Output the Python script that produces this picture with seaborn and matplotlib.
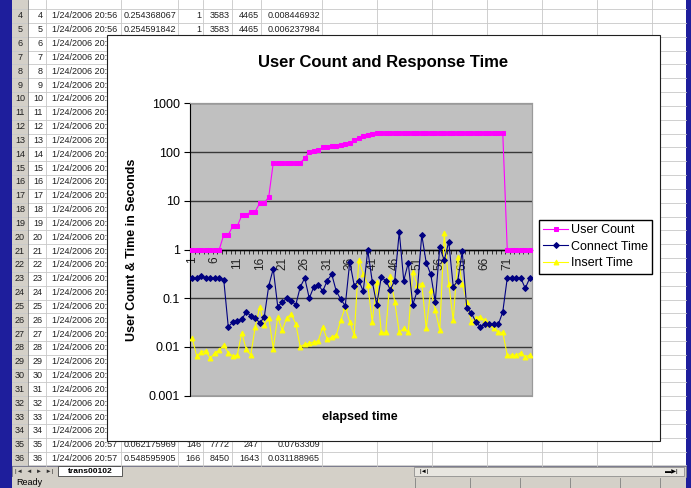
import matplotlib
matplotlib.use("Agg")
import matplotlib.pyplot as plt
from matplotlib.patches import Rectangle
import seaborn as sns
import numpy as np
import pandas as pd

# ---- chart data ----
elapsed = list(range(1, 77))

user_count = [1, 1, 1, 1, 1, 1, 1,
              2, 2, 3, 3, 5, 5, 6, 6, 9, 9, 12,
              60, 60, 60, 60, 60, 60, 60, 75,
              100, 105, 108,
              125, 128, 132, 135, 140, 145, 150,
              175, 195, 215, 225, 235,
              250, 250, 250, 250, 250, 250, 250, 250, 250, 250,
              250, 250, 250, 250, 250, 250, 250, 250, 250, 250,
              250, 250, 250, 250, 250, 250, 250, 250, 250,
              1, 1, 1, 1, 1, 1]

connect_time = [0.26, 0.26, 0.28, 0.26, 0.26, 0.26, 0.26, 0.24,
                0.026, 0.032, 0.034, 0.037, 0.052, 0.044, 0.040, 0.031, 0.041,
                0.18, 0.40,
                0.067, 0.083, 0.10, 0.089, 0.073,
                0.17, 0.26, 0.10, 0.17, 0.19, 0.14, 0.23, 0.31, 0.14, 0.095, 0.07,
                0.56,
                0.18, 0.23, 0.14, 0.97, 0.22, 0.074, 0.27, 0.23, 0.15, 0.23,
                2.3, 0.23, 0.53, 0.074, 0.14, 2.0, 0.53, 0.31, 0.085, 1.1,
                0.6, 1.45, 0.17, 0.23, 0.91,
                0.063, 0.05, 0.033, 0.026, 0.029, 0.029, 0.029, 0.029, 0.052,
                0.26, 0.26, 0.26, 0.26, 0.16, 0.26]

insert_time = [0.015, 0.0065, 0.008, 0.0083, 0.0058, 0.0076, 0.0086, 0.011, 0.0076, 0.0065,
               0.0068, 0.0195, 0.0089, 0.0068, 0.026, 0.067, 0.028, 0.040, 0.0093, 0.041,
               0.022, 0.040, 0.047, 0.030, 0.010, 0.0114, 0.0118, 0.0127, 0.0133, 0.026,
               0.0143, 0.016, 0.0175, 0.035, 0.067, 0.033, 0.0175, 0.60, 0.32, 0.19,
               0.033, 0.22, 0.020, 0.020, 0.28, 0.084, 0.020, 0.024, 0.020, 0.35,
               0.19, 0.20, 0.024, 0.147, 0.057, 0.022, 2.14, 0.20, 0.035, 0.71,
               0.20, 0.084, 0.033, 0.040, 0.042, 0.035, 0.030, 0.024, 0.020, 0.020,
               0.0068, 0.0068, 0.0068, 0.0076, 0.0063, 0.0068]

x_tick_labels = ["1", "6", "11", "16", "21", "26", "31", "36",
                 "41", "46", "51", "56", "61", "66", "71"]
y_ticks = [0.001, 0.01, 0.1, 1, 10, 100, 1000]
y_tick_labels = ["0.001", "0.01", "0.1", "1", "10", "100", "1000"]

# ---- spreadsheet behind the chart (screenshot decoration) ----
sheet_rows = list(range(4, 37))
full_rows = {
    4: ["1/24/2006 20:56", "0.254368067", "1", "3583", "4465", "0.008446932"],
    5: ["1/24/2006 20:56", "0.254591842", "1", "3583", "4465", "0.006237984"],
    35: ["1/24/2006 20:57", "0.062175969", "146", "7772", "247", "0.0763309"],
    36: ["1/24/2006 20:57", "0.548595905", "166", "8450", "1643", "0.031188965"],
}
sheet_tab = "trans00102"

W, H = 691, 488
fig = plt.figure(figsize=(W / 100, H / 100), dpi=100)
fig.patch.set_facecolor("#1e1e9c")
plt.rcParams["font.family"] = ["Liberation Sans", "DejaVu Sans"]

# background layer in pixel coordinates
bg = fig.add_axes([0, 0, 1, 1], zorder=-1)
bg.set_xlim(0, W)
bg.set_ylim(H, 0)
bg.axis("off")

bg.add_patch(Rectangle((12, 0), 674, 466, facecolor="white", edgecolor="none"))
bg.add_patch(Rectangle((12, 0), 16, 466, facecolor="#d4d0c8", edgecolor="none"))

row_h = 13.83
def row_y(r):
    return 16 + (r - 4) * row_h

grid_c = "#c8c8c8"
for r in [3] + sheet_rows:
    y = row_y(r) + row_h / 2
    bg.plot([12, 686], [y, y], color=grid_c, lw=0.6)
col_edges = [28, 46, 121, 178, 203, 232, 261, 322, 377, 432, 487, 542, 597, 652]
for cx in col_edges:
    bg.plot([cx, cx], [0, 466], color=grid_c if cx > 28 else "#808080", lw=0.6)

txt_kw = dict(fontsize=6.5, va="center", color="#202020")
rights = [117, 176, 201, 230, 259, 320]
for r in sheet_rows:
    y = row_y(r)
    bg.text(20, y, str(r), ha="center", **txt_kw)
    bg.text(43, y, str(r), ha="right", **txt_kw)
    cells = full_rows.get(r, ["1/24/2006 20:56" if r < 20 else "1/24/2006 20:57"])
    for val, rx in zip(cells, rights):
        bg.text(rx, y, val, ha="right", **txt_kw)

# sheet tab bar and status bar
bg.add_patch(Rectangle((12, 466), 674, 11, facecolor="#d4d0c8", edgecolor="#808080", lw=0.5))
bg.text(15, 471.5, "|◄  ◄  ►  ►|", fontsize=4.5, va="center", color="#303030")
bg.add_patch(Rectangle((58, 466), 64, 10, facecolor="white", edgecolor="#404040", lw=0.6))
bg.text(90, 471.5, sheet_tab, fontsize=6, weight="bold", ha="center", va="center")
bg.add_patch(Rectangle((414, 467), 270, 9, facecolor="#e8e6e0", edgecolor="#808080", lw=0.5))
bg.text(420, 471.5, "|◄|", fontsize=4.5, va="center")
bg.text(665, 471.5, "▬▶|", fontsize=4.5, va="center")
bg.add_patch(Rectangle((12, 477), 674, 11, facecolor="#d4d0c8", edgecolor="none"))
bg.text(16, 482.5, "Ready", fontsize=6.5, va="center")
for sx in [415, 470, 520, 570, 620, 660]:
    bg.plot([sx, sx], [478, 488], color="#808080", lw=0.6)

# white chart area
bg.add_patch(Rectangle((107, 35), 553, 406, facecolor="white", edgecolor="#202020", lw=0.8, zorder=5))

# ---- the chart ----
left, right, top, bottom = 190, 532, 103.3, 395.7
ax = fig.add_axes([left / W, 1 - bottom / H, (right - left) / W, (bottom - top) / H])
ax.set_facecolor("#c0c0c0")

df = pd.DataFrame({"elapsed": elapsed, "User Count": user_count,
                   "Connect Time": connect_time, "Insert Time": insert_time})

for y0 in y_ticks:
    ax.axhline(y0, color="#383838", lw=1.0, zorder=1)

sns.lineplot(data=df, x="elapsed", y="User Count", ax=ax, color="#ff00ff",
             marker="s", markersize=3.2, markeredgecolor="#ff00ff", linewidth=0.8,
             label="User Count", zorder=3)
sns.lineplot(data=df, x="elapsed", y="Connect Time", ax=ax, color="#000080",
             marker="D", markersize=3, markeredgecolor="#000080", linewidth=0.8,
             label="Connect Time", zorder=3)
sns.lineplot(data=df, x="elapsed", y="Insert Time", ax=ax, color="#ffff00",
             marker="^", markersize=3.5, markeredgecolor="#ffff00", linewidth=0.8,
             label="Insert Time", zorder=2.9)

ax.set_yscale("log")
ax.set_ylim(0.001, 1000)
ax.set_xlim(0.5, len(elapsed) + 0.5)
ax.set_yticks(y_ticks)
ax.set_yticklabels(y_tick_labels)
ax.minorticks_off()
ax.tick_params(axis="y", length=4, width=0.8, pad=3, labelsize=9, color="black")

ax.spines["bottom"].set_position(("data", 1))
ax.spines["bottom"].set_color("black")
ax.spines["bottom"].set_linewidth(1.0)
ax.spines["left"].set_color("black")
ax.spines["left"].set_linewidth(0.8)
for s in ["top", "right"]:
    ax.spines[s].set_color("#9a9a9a")
    ax.spines[s].set_linewidth(0.8)
ax.patch.set_edgecolor("#9a9a9a")
ax.patch.set_linewidth(0.8)

ax.set_xticks([int(t) for t in x_tick_labels])
ax.set_xticklabels(x_tick_labels, rotation=90, fontsize=8.5, color="#202020")
ax.set_xticks(np.arange(0.5, len(elapsed) + 1, 1), minor=True)
ax.tick_params(axis="x", which="major", length=0, pad=5)
ax.tick_params(axis="x", which="minor", length=3, width=0.7, direction="out", color="#303030")
ax.set_xlabel("")
ax.set_ylabel("")

ax.legend(loc="upper left", bbox_to_anchor=(539 / W, 1 - 220 / H),
          bbox_transform=fig.transFigure, fontsize=9, frameon=True, fancybox=False,
          edgecolor="black", framealpha=1, borderpad=0.35, labelspacing=0.35,
          handlelength=2.0, handletextpad=0.2, borderaxespad=0)

fig.text(383 / W, 1 - 62 / H, "User Count and Response Time", ha="center", va="center",
         fontsize=12, weight="bold")
fig.text(360 / W, 1 - 417 / H, "elapsed time", ha="center", va="center",
         fontsize=9, weight="bold")
fig.text(132 / W, 1 - 250 / H, "User Count & Time in Seconds", ha="center", va="center",
         fontsize=9, weight="bold", rotation=90)

fig.savefig("out.png", dpi=100)
